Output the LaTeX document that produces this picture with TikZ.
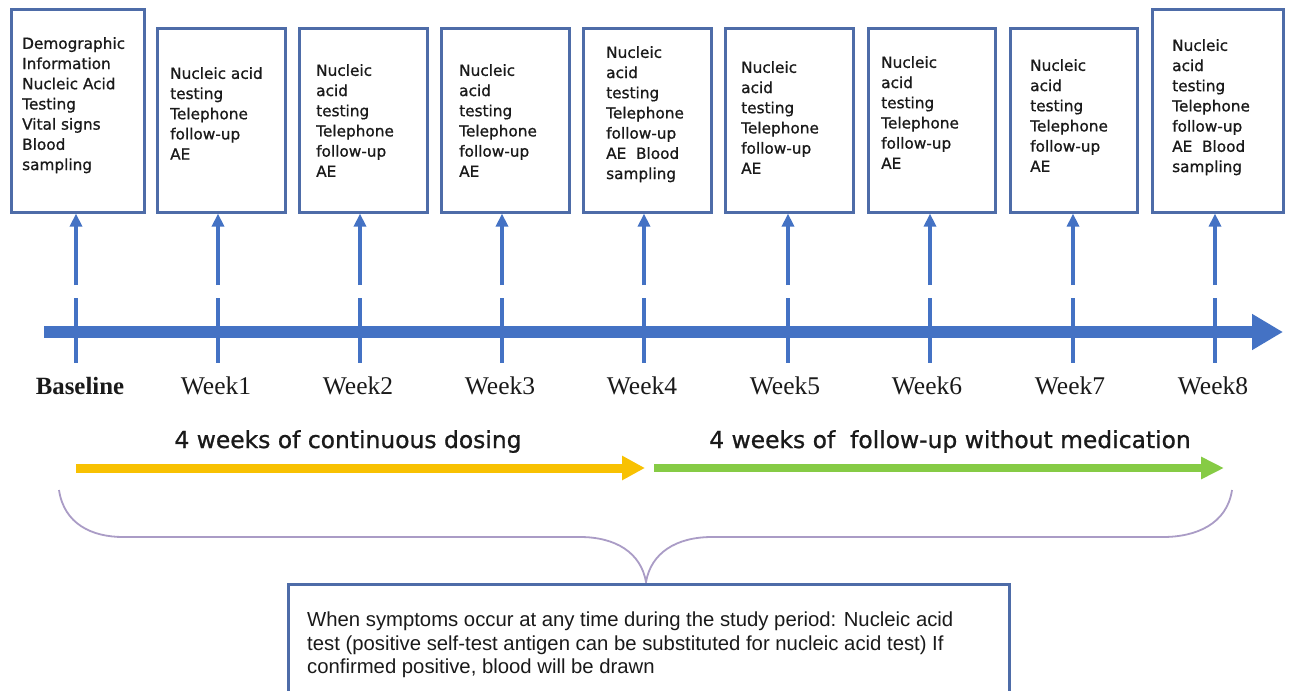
\documentclass[tikz,border=0pt]{standalone}
\usepackage{fontspec}
\setmainfont{Liberation Serif}
\newfontfamily\boxfont[FakeBold=0.9]{DejaVu Sans}
\newfontfamily\notefont{Liberation Sans}
\usetikzlibrary{arrows.meta}
\definecolor{boxblue}{HTML}{4E6CA8}
\definecolor{arrblue}{HTML}{4472C4}
\definecolor{phaseyellow}{HTML}{F8C102}
\definecolor{phasegreen}{HTML}{86CB45}
\definecolor{bracecol}{HTML}{AA9CC6}
\definecolor{txt}{HTML}{1A1A1A}
\begin{document}
\begin{tikzpicture}[x=1pt,y=-1pt,
  visitbox/.style={draw=boxblue,line width=2.6pt,fill=white,inner sep=0pt},
  visittext/.style={font=\boxfont\fontsize{15.3}{20.2}\selectfont,align=left,anchor=north west,inner sep=0pt,text=txt},
  uparrow/.style={draw=arrblue,line width=3.2pt,-{Triangle[width=12pt,length=13pt]}},
  tickline/.style={draw=arrblue,line width=3.2pt},
  weeklabel/.style={font=\fontsize{25.5}{28}\selectfont,anchor=base,inner sep=0pt,text=txt},
  phaselabel/.style={font=\boxfont\fontsize{23.4}{26}\selectfont,anchor=base,inner sep=0pt,text=txt},
]
\useasboundingbox (0,0) rectangle (1289,690);
\clip (0,0) rectangle (1289,690);
\fill[white] (0,0) rectangle (1289,690);

% visit boxes: index/left/right/top/text-left/text-top/tick x
\foreach \i/\l/\r/\t/\tx/\ty/\k/\txt in {
  0/10/143/8/22/37/76/{Demographic\\Information\\Nucleic Acid\\Testing\\Vital signs\\Blood\\sampling},
  1/156/284/27/170/67/218/{Nucleic acid\\testing\\Telephone\\follow-up\\AE},
  2/298/426/27/316/64/360/{Nucleic\\acid\\testing\\Telephone\\follow-up\\AE},
  3/440/568/27/459/64/502/{Nucleic\\acid\\testing\\Telephone\\follow-up\\AE},
  4/582/710/27/606/46/644/{Nucleic\\acid\\testing\\Telephone\\follow-up\\AE\ \ Blood\\sampling},
  5/724/852/27/741/61/788/{Nucleic\\acid\\testing\\Telephone\\follow-up\\AE},
  6/867/994/27/881/56/930/{Nucleic\\acid\\testing\\Telephone\\follow-up\\AE},
  7/1009/1136/27/1030/59/1073/{Nucleic\\acid\\testing\\Telephone\\follow-up\\AE},
  8/1151/1282/8/1172/39/1215/{Nucleic\\acid\\testing\\Telephone\\follow-up\\AE\ \ Blood\\sampling}} {
  \node[visitbox,minimum width={\r-\l},minimum height={211-\t},anchor=north west] (b\i) at (\l,\t) {};
  \node[visittext] (bt\i) at (\tx,\ty) {\txt};
  \coordinate (a\i) at (\k,285);
  \coordinate (ttop\i) at (\k,298);
  \coordinate (tbot\i) at (\k,363);
  \draw[uparrow] (a\i) -- (a\i |- b\i.south);
}

% timeline
\coordinate (tlstart) at (44,332);
\coordinate (tlend) at (1283,332);
\draw[draw=arrblue,line width=12pt,-{Triangle[width=34pt,length=31pt]}] (tlstart) -- (tlend);
\foreach \i in {0,...,8} { \draw[tickline] (ttop\i) -- (tbot\i); }

% week labels
\node[weeklabel,font=\bfseries\fontsize{24.8}{28}\selectfont] (w0) at (80,394) {Baseline};
\foreach \i/\x in {1/216,2/358,3/500,4/642,5/785,6/927,7/1070,8/1213} {
  \node[weeklabel] (w\i) at (\x,394) {Week\i};
}

% phase labels and arrows
\node[phaselabel] (p1) at (348,448) {4 weeks of continuous dosing};
\node[phaselabel] (p2) at (950,448) {4 weeks of \ follow-up without medication};
\coordinate (ys) at (76,468);
\coordinate (ye) at (645,468);
\coordinate (gs) at (654,468);
\coordinate (ge) at (1224,468);
\draw[draw=phaseyellow,line width=9pt,-{Triangle[width=23pt,length=23pt]}] (ys) -- (ye);
\draw[draw=phasegreen,line width=8pt,-{Triangle[width=21pt,length=23pt]}] (gs) -- (ge);

% brace
\coordinate (brl) at (59,490);
\coordinate (brm) at (646,582);
\coordinate (brr) at (1232,490);
\draw[bracecol,line width=1.8pt]
  (brl) .. controls (64,524) and (92,537) .. (123,537) -- (580,537)
  .. controls (616,537) and (641,553) .. (brm)
  .. controls (651,553) and (676,537) .. (712,537) -- (1163,537)
  .. controls (1196,537) and (1227,524) .. (brr);

% note box
\node[draw=boxblue,line width=2.6pt,fill=white,anchor=north west,minimum width=721pt,minimum height=130pt,inner sep=0pt] (note) at (287,583) {};
\node[font=\notefont\fontsize{20.3}{23.5}\selectfont,align=left,anchor=north west,inner sep=0pt,text=txt] (notetext) at (307,612)
  {When symptoms occur at any time during the study period: Nucleic acid\\
   test (positive self-test antigen can be substituted for nucleic acid test) If\\
   confirmed positive, blood will be drawn};
\end{tikzpicture}
\end{document}
